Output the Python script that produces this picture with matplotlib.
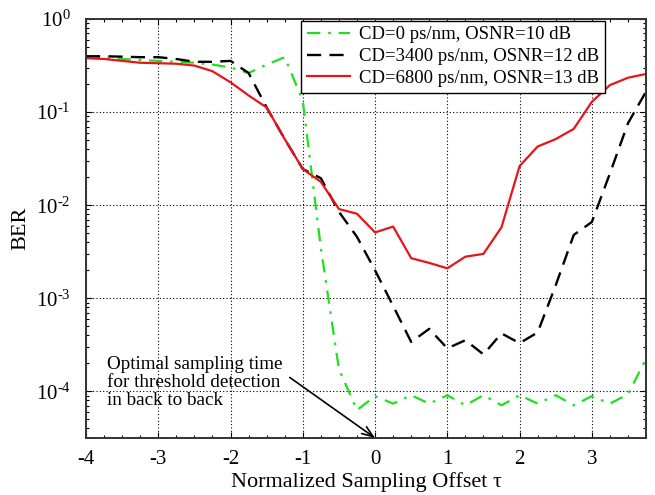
import matplotlib
matplotlib.use("Agg")
import matplotlib.pyplot as plt
from matplotlib.ticker import MultipleLocator, LogLocator, NullFormatter, FuncFormatter
import numpy as np

plt.rcParams['font.family'] = ['Liberation Serif', 'DejaVu Serif']
plt.rcParams['mathtext.fontset'] = 'custom'
plt.rcParams['mathtext.rm'] = 'Liberation Serif'
plt.rcParams['mathtext.it'] = 'Liberation Serif:italic'
plt.rcParams['axes.unicode_minus'] = False

# normalized sampling offset (symbol periods)
offset = [-4, -3.75, -3.5, -3.25, -3, -2.75, -2.5, -2.25, -2, -1.75, -1.5, -1.25,
          -1, -0.75, -0.5, -0.25, 0, 0.25, 0.5, 0.75, 1, 1.25, 1.5, 1.75,
          2, 2.25, 2.5, 2.75, 3, 3.25, 3.5, 3.75]

ber_cd0 = [0.389, 0.380, 0.372, 0.363, 0.355, 0.347, 0.339, 0.324, 0.302, 0.263, 0.324, 0.389,
           0.132, 3.47e-3, 1.74e-4, 6.3e-5, 8.9e-5, 7.4e-5, 9.1e-5, 7.4e-5, 9.1e-5, 7.1e-5, 9.1e-5, 7.1e-5,
           9.1e-5, 7.4e-5, 9.1e-5, 7.1e-5, 8.9e-5, 7.4e-5, 9.3e-5, 2.24e-4]

ber_cd3400 = [0.398, 0.398, 0.394, 0.389, 0.389, 0.372, 0.347, 0.347, 0.355, 0.263, 0.112, 0.0513,
              0.0245, 0.0195, 0.0085, 0.00457, 0.0020, 8.3e-4, 3.4e-4, 4.7e-4, 2.9e-4, 3.55e-4, 2.5e-4, 4.2e-4,
              3.3e-4, 4.3e-4, 1.38e-3, 4.8e-3, 6.6e-3, 0.0219, 0.0759, 0.166]

ber_cd6800 = [0.380, 0.372, 0.355, 0.339, 0.335, 0.331, 0.316, 0.275, 0.209, 0.151, 0.112, 0.0513,
              0.0245, 0.0178, 0.0091, 0.0081, 0.0051, 0.0059, 0.0027, 0.0024, 0.0021, 0.0028, 0.0030, 0.0058,
              0.0263, 0.0427, 0.0513, 0.0661, 0.129, 0.195, 0.234, 0.257]

labels = ["CD=0 ps/nm, OSNR=10 dB",
          "CD=3400 ps/nm, OSNR=12 dB",
          "CD=6800 ps/nm, OSNR=13 dB"]


def pow10_label(v, pos):
    e = int(round(np.log10(v)))
    if e < 0:
        return r'$10^{\text{-}%d}$' % (-e)
    return r'$10^{%d}$' % e


fig = plt.figure(figsize=(6.55, 4.95), dpi=100)
ax = fig.add_axes([0.1313, 0.1152, 0.8550, 0.8464])

ax.plot(offset, ber_cd0, color='#1ee01e', lw=1.6, dashes=(6, 3.5, 1.2, 3.5), label=labels[0])
ax.plot(offset, ber_cd3400, color='black', lw=1.7, dashes=(6, 3.5), label=labels[1])
ax.plot(offset, ber_cd6800, color='#e8141a', lw=1.6, label=labels[2])

ax.set_yscale('log')
ax.set_xlim(-4, 3.75)
ax.set_ylim(10 ** -4.5, 1)
ax.xaxis.set_major_locator(MultipleLocator(1))
ax.xaxis.set_minor_locator(MultipleLocator(0.25))
ax.yaxis.set_major_locator(LogLocator(base=10, numticks=10))
ax.yaxis.set_major_formatter(FuncFormatter(pow10_label))
ax.yaxis.set_minor_locator(LogLocator(base=10, subs=range(2, 10), numticks=20))
ax.yaxis.set_minor_formatter(NullFormatter())

ax.grid(True, which='major', color='black', linestyle=(0, (1, 2)), lw=0.8)
ax.tick_params(which='both', direction='in', top=True, right=True, labelsize=15)
ax.tick_params(which='major', length=4, width=0.8)
ax.tick_params(which='minor', length=2.5, width=0.8)
ax.tick_params(axis='x', pad=9)
ax.tick_params(axis='y', pad=11)
for sp in ax.spines.values():
    sp.set_linewidth(1.4)
    sp.set_color('#333333')

ax.set_xlabel("Normalized Sampling Offset τ", fontsize=16, labelpad=2)
ax.set_ylabel("BER", fontsize=16, labelpad=4)

leg = ax.legend(loc='upper right', bbox_to_anchor=(0.927, 0.996), fontsize=13.5,
                frameon=True, fancybox=False, framealpha=1, edgecolor='black',
                handlelength=2.3, handletextpad=0.5, labelspacing=0.25,
                borderpad=0.3, borderaxespad=0)
leg.get_frame().set_linewidth(1.0)

ax.text(-3.71, 10 ** -3.62, "Optimal sampling time\nfor threshold detection\nin back to back",
        fontsize=13.75, va='top', ha='left', linespacing=1.08)
ax.annotate('', xy=(0, 10 ** -4.5), xytext=(-1.18, 10 ** -3.85),
            arrowprops=dict(arrowstyle='->,head_length=0.8,head_width=0.3', lw=1.2, color='black',
                            shrinkA=0, shrinkB=0))

fig.savefig("out.png", dpi=100)
